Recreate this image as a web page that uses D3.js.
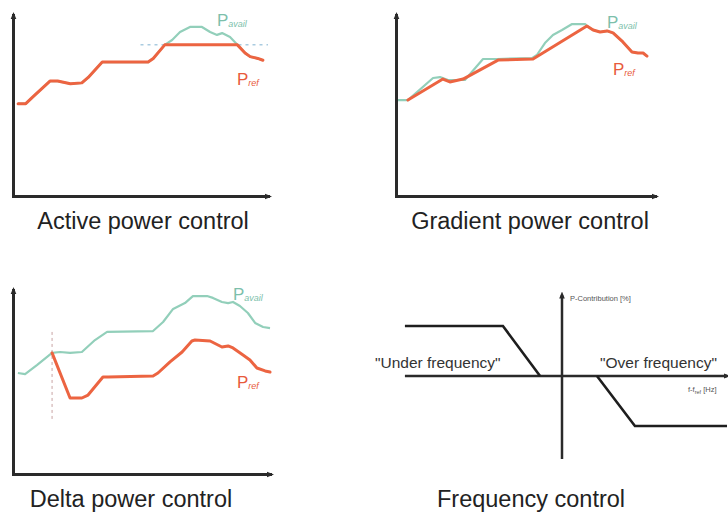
<!DOCTYPE html>
<html><head><meta charset="utf-8">
<script src="https://cdn.jsdelivr.net/npm/d3@7"></script>
<style>body{margin:0;background:#fff}svg{display:block}</style>
</head><body><svg id="c" width="728" height="516"></svg>
<script>
// ---------- DATA ----------
const titles = ["Active power control", "Gradient power control", "Delta power control", "Frequency control"];
const seriesNames = ["avail", "ref"];

// Active power control (time 0..100, power 0..100)
const activeAvail = [[2,51],[5,51],[8,55],[14.5,63.5],[17.5,63.5],[22.5,62],[27,62.5],[29.5,65.5],[35,74],[53,74],[55,76],[59.5,83.5],[62.4,86.2],[65.5,90.6],[69.4,93.4],[74.1,93.4],[77.3,90.6],[80,89],[82,90],[85.1,87.8],[88,83.5],[91,79],[93,77],[96,76],[98,75]];
const activeRef = [[2,51],[5,51],[8,55],[14.5,63.5],[17.5,63.5],[22.5,62],[27,62.5],[29.5,65.5],[35,74],[53,74],[55,76],[59.5,83.5],[88,83.5],[91,79],[93,77],[96,76],[98,75]];
const activeLimit = [[50,83.5],[100,83.5]];

// Gradient power control
const gradientAvail = [[0.4,53],[4.6,53],[14.3,65.2],[17,65.7],[20.1,64.1],[26.6,64.1],[33.6,75.7],[39,75.7],[52.5,76.2],[54.4,77.9],[57.5,84.5],[60.6,89],[64.1,91.7],[68,95],[73,95],[73.7,93.9],[76.1,91.7],[78.8,90.6],[81.5,91.2],[83.8,90.1],[87.6,85.1],[91.1,79.6],[93.4,79],[95.4,79],[96.9,77.3]];
const gradientRef = [[4.6,53],[18.1,64.6],[20.8,63],[25.9,64.6],[39.4,75.1],[52.9,75.7],[73.7,93.9],[76.1,91.7],[78.8,90.6],[81.5,91.2],[83.8,90.1],[87.6,85.1],[91.1,79.6],[93.4,79],[95.4,79],[96.9,77.3]];

// Delta power control
const deltaAvail = [[1.9,54.9],[4.7,54.3],[9.3,59.2],[15.2,65.8],[18.3,66.3],[22.2,65.8],[26.8,66.3],[31.9,72.8],[36.6,77.2],[54.5,77.7],[58.4,82.6],[62.3,89.7],[66.9,92.9],[70,96.7],[75.5,96.7],[77.8,95.7],[81.3,93.5],[83.7,92.9],[85.6,93.5],[88.3,91.3],[91.4,87.5],[94.2,82.1],[97.3,79.9],[100,79.3]];
const deltaRef = [[15.2,65.8],[22.2,41.3],[26.8,41.3],[29.2,42.9],[35,52.7],[37,52.7],[54.5,53.3],[56.4,54.9],[61.1,60.9],[65.8,66.3],[69.6,72.3],[70.8,72.8],[76.7,72.3],[81.3,69],[83.7,69.6],[85.6,68.5],[89.5,64.7],[92.2,62],[94.9,57.6],[98.1,56],[100,55.4]];
const deltaMarker = [[15.2,77.2],[15.2,29.3]];

// Frequency control (frequency deviation -1..1, P contribution -1..1)
const freqUnder = [[-0.952,1],[-0.358,1],[-0.133,0]];
const freqOver = [[0.212,0],[0.442,-1],[1,-1]];
const freqAxisH = [[-0.952,0],[1,0]];
const freqAxisV = [[0,-1.66],[0,1.62]];
const freqLabels = ["\"Under frequency\"", "\"Over frequency\""];
const freqAxisLabels = ["P-Contribution [%]", "f-f", "ref", " [Hz]"];

// ---------- LAYOUT / STYLE ----------
const C = {ref:"#ec6441", avail:"#92cfba", availText:"#7dbfab", refText:"#e85a3c", axis:"#2a2a2a"};
const svg = d3.select("#c");
svg.append("rect").attr("width",728).attr("height",516).attr("fill","#fff");

const defs = svg.append("defs");
defs.append("marker").attr("id","arr").attr("viewBox","0 0 10 10").attr("refX",5).attr("refY",5)
  .attr("markerWidth",7).attr("markerHeight",7).attr("markerUnits","userSpaceOnUse").attr("orient","auto")
  .append("path").attr("d","M0,1 L10,5 L0,9 Z").attr("fill",C.axis);

const panels = [
  {key:"active", box:{x0:13,x1:268,y0:196,y1:15}, avail:activeAvail, ref:activeRef,
   availLab:[217,26], refLab:[237,85], title:[143,229]},
  {key:"gradient", box:{x0:396,x1:655,y0:196,y1:15}, avail:gradientAvail, ref:gradientRef,
   availLab:[607,28], refLab:[613,75], title:[530,229]},
  {key:"delta", box:{x0:13,x1:270,y0:474,y1:290}, avail:deltaAvail, ref:deltaRef,
   availLab:[233,300], refLab:[237,388], title:[131,507]}
];

function pLabel(g, pos, sub, color) {
  const t = g.append("text").attr("x",pos[0]).attr("y",pos[1])
    .attr("font-family","Liberation Sans, Arial, sans-serif").attr("fill",color);
  t.append("tspan").attr("font-size",17).attr("font-weight",300).text("P");
  t.append("tspan").attr("font-size",9).attr("font-style","italic").attr("dy",1).text(sub);
}

panels.forEach(p => {
  const g = svg.append("g");
  const x = d3.scaleLinear().domain([0,100]).range([p.box.x0,p.box.x1]);
  const y = d3.scaleLinear().domain([0,100]).range([p.box.y0,p.box.y1]);
  const line = d3.line().x(d=>x(d[0])).y(d=>y(d[1]));

  if (p.key==="active") {
    g.append("path").attr("d",line(activeLimit)).attr("fill","none")
      .attr("stroke","#a9cbe0").attr("stroke-width",1.5).attr("stroke-dasharray","3,4");
  }
  if (p.key==="delta") {
    g.append("path").attr("d",line(deltaMarker)).attr("fill","none")
      .attr("stroke","#c9a4a4").attr("stroke-width",1).attr("stroke-dasharray","3,3");
  }
  g.append("path").attr("d",line(p.avail)).attr("fill","none").attr("stroke",C.avail)
    .attr("stroke-width",2.2).attr("stroke-linejoin","round");
  g.append("path").attr("d",line(p.ref)).attr("fill","none").attr("stroke",C.ref)
    .attr("stroke-width",3).attr("stroke-linejoin","round").attr("stroke-linecap","round");

  // axes
  const ax = g.append("g").attr("transform",`translate(0,${p.box.y0})`)
    .call(d3.axisBottom(x).ticks(0).tickSizeOuter(0));
  const ay = g.append("g").attr("transform",`translate(${p.box.x0},0)`)
    .call(d3.axisLeft(y).ticks(0).tickSizeOuter(0));
  [ax,ay].forEach(a => a.select(".domain").attr("stroke",C.axis).attr("stroke-width",3)
    .attr("stroke-linecap","square").attr("marker-end","url(#arr)"));

  pLabel(g, p.availLab, seriesNames[0], C.availText);
  pLabel(g, p.refLab, seriesNames[1], C.refText);

  const i = panels.indexOf(p);
  g.append("text").attr("x",p.title[0]).attr("y",p.title[1]).attr("text-anchor","middle")
    .attr("font-family","Liberation Sans, Arial, sans-serif").attr("font-size",23.5)
    .attr("fill","#222").text(titles[i]);
});

// Frequency control panel
(function(){
  const g = svg.append("g");
  const x = d3.scaleLinear().domain([-1,1]).range([397,727]);
  const y = d3.scaleLinear().domain([-1,1]).range([426,326]);
  const line = d3.line().x(d=>x(d[0])).y(d=>y(d[1]));
  g.append("path").attr("d",line(freqAxisH)).attr("stroke",C.axis).attr("stroke-width",2.5)
    .attr("fill","none").attr("marker-end","url(#arr)");
  g.append("path").attr("d",line(freqAxisV)).attr("stroke",C.axis).attr("stroke-width",2.5)
    .attr("fill","none").attr("marker-end","url(#arr)");
  [freqUnder,freqOver].forEach(s => g.append("path").attr("d",line(s)).attr("fill","none")
    .attr("stroke","#1e1e1e").attr("stroke-width",2.6).attr("stroke-linejoin","miter"));

  const font = "Liberation Sans, Arial, sans-serif";
  g.append("text").attr("x",375).attr("y",368).attr("font-family",font).attr("font-size",15.5)
    .attr("fill","#333").text(freqLabels[0]);
  g.append("text").attr("x",600).attr("y",368).attr("font-family",font).attr("font-size",15.5)
    .attr("fill","#333").text(freqLabels[1]);
  g.append("text").attr("x",570).attr("y",301).attr("font-family",font).attr("font-size",7.5)
    .attr("fill","#555").text(freqAxisLabels[0]);
  const t = g.append("text").attr("x",688).attr("y",392).attr("font-family",font).attr("font-size",7.5).attr("fill","#555");
  t.append("tspan").text(freqAxisLabels[1]);
  t.append("tspan").attr("font-size",5.5).attr("dy",1.5).text(freqAxisLabels[2]);
  t.append("tspan").attr("dy",-1.5).text(freqAxisLabels[3]);

  g.append("text").attr("x",531).attr("y",507).attr("text-anchor","middle")
    .attr("font-family",font).attr("font-size",23.5).attr("fill","#222").text(titles[3]);
})();
</script></body></html>
